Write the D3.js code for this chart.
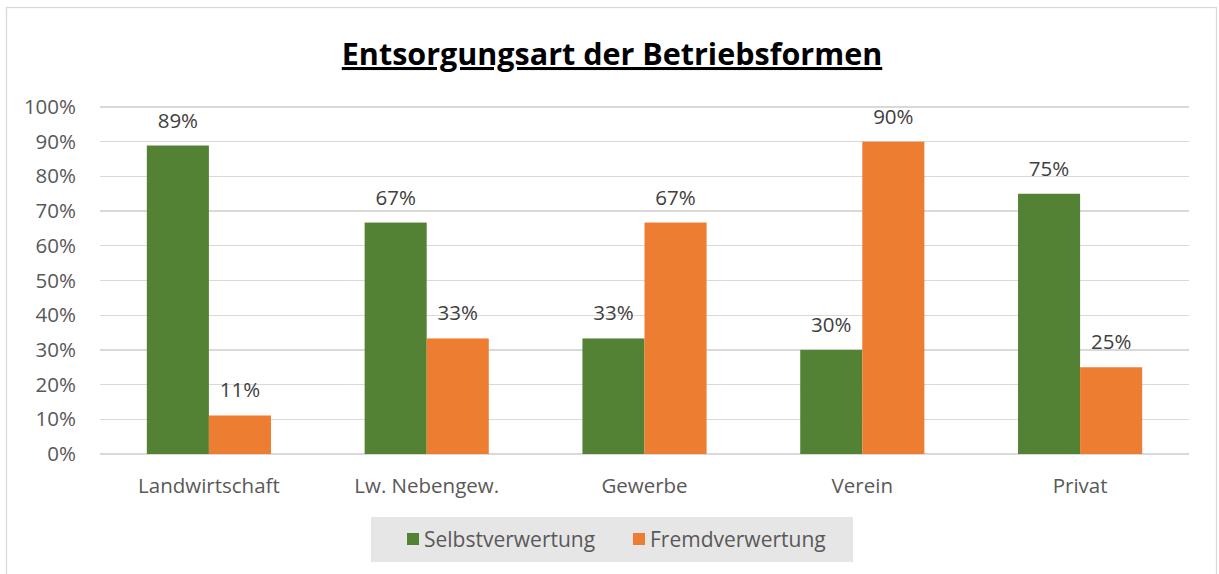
<!DOCTYPE html>
<meta charset="utf-8">
<style>
body { margin: 0; background: #fff; font-family: "Open Sans", "Noto Sans", sans-serif; }
.grid line { stroke: #d9d9d9; stroke-width: 1.3; shape-rendering: crispEdges; }
.axis text { fill: #595959; font-size: 20.5px; font-family: "Open Sans", sans-serif; }
.label { fill: #404040; font-size: 20.5px; font-family: "Open Sans", sans-serif; }
</style>
<body>
<script src="https://d3js.org/d3.v7.min.js"></script>
<script>
// data
var categories = ["Landwirtschaft", "Lw. Nebengew.", "Gewerbe", "Verein", "Privat"];
var seriesNames = ["Selbstverwertung", "Fremdverwertung"];
var selbst = [0.889, 0.667, 0.333, 0.30, 0.75];
var fremd  = [0.111, 0.333, 0.667, 0.90, 0.25];
var yTicks = [0, 0.1, 0.2, 0.3, 0.4, 0.5, 0.6, 0.7, 0.8, 0.9, 1.0];
var colors = ["#548235", "#ed7d31"];

var W = 1219, H = 574;
var margin = {top: 107, right: 30, bottom: 120, left: 100};
var width = 1189 - margin.left,
    height = 454 - margin.top;

var svg = d3.select("body").append("svg")
    .attr("width", W).attr("height", H);

// outer chart border
svg.append("rect")
    .attr("x", 6.5).attr("y", 7.5)
    .attr("width", 1210).attr("height", 580)
    .attr("fill", "none").attr("stroke", "#d9d9d9").attr("stroke-width", 1.3);

// title
svg.append("text")
    .attr("x", 612).attr("y", 65)
    .attr("text-anchor", "middle")
    .style("font-size", "30.5px").style("font-weight", "bold")
    .style("text-decoration", "underline")
    .attr("fill", "#000")
    .text("Entsorgungsart der Betriebsformen");

var g = svg.append("g")
    .attr("transform", "translate(" + margin.left + "," + margin.top + ")");

var x0 = d3.scaleBand().domain(categories).range([0, width]).paddingInner(0.43).paddingOuter(0.215);
var x1 = d3.scaleBand().domain(seriesNames).range([0, x0.bandwidth()]);
var y = d3.scaleLinear().domain([0, 1]).range([height, 0]);

// gridlines
g.append("g").attr("class", "grid")
    .selectAll("line").data(yTicks).enter().append("line")
    .attr("x1", 0).attr("x2", width)
    .attr("y1", function(d) { return y(d); })
    .attr("y2", function(d) { return y(d); });

// y axis labels
var yAxis = d3.axisLeft(y).tickValues(yTicks).tickFormat(d3.format(".0%")).tickSize(0).tickPadding(24);
g.append("g").attr("class", "axis").call(yAxis)
    .call(function(s) { s.select(".domain").remove(); });

// x axis labels
var xAxis = d3.axisBottom(x0).tickSize(0).tickPadding(24);
g.append("g").attr("class", "axis")
    .attr("transform", "translate(0," + height + ")")
    .call(xAxis)
    .call(function(s) { s.select(".domain").remove(); });

var rows = categories.map(function(c, i) {
    return {cat: c, vals: [{s: seriesNames[0], v: selbst[i]}, {s: seriesNames[1], v: fremd[i]}]};
});

var grp = g.selectAll(".cat").data(rows).enter().append("g")
    .attr("transform", function(d) { return "translate(" + x0(d.cat) + ",0)"; });

grp.selectAll("rect").data(function(d) { return d.vals; }).enter().append("rect")
    .attr("x", function(d) { return x1(d.s); })
    .attr("y", function(d) { return y(d.v); })
    .attr("width", x1.bandwidth())
    .attr("height", function(d) { return height - y(d.v); })
    .attr("fill", function(d, i) { return colors[i]; });

grp.selectAll("text.label").data(function(d) { return d.vals; }).enter().append("text")
    .attr("class", "label")
    .attr("x", function(d) { return x1(d.s) + x1.bandwidth() / 2; })
    .attr("y", function(d) { return y(d.v) - 18; })
    .attr("text-anchor", "middle")
    .text(function(d) { return d3.format(".0%")(d.v); });

// legend
var leg = svg.append("g");
leg.append("rect").attr("x", 371).attr("y", 517).attr("width", 482).attr("height", 45).attr("fill", "#e7e6e6");
var legX = [407, 633];
seriesNames.forEach(function(s, i) {
    leg.append("rect").attr("x", legX[i]).attr("y", 533).attr("width", 12).attr("height", 12).attr("fill", colors[i]);
    leg.append("text").attr("x", legX[i] + 17).attr("y", 547)
        .attr("fill", "#595959").style("font-size", "21px").text(s);
});
</script>
</body>
